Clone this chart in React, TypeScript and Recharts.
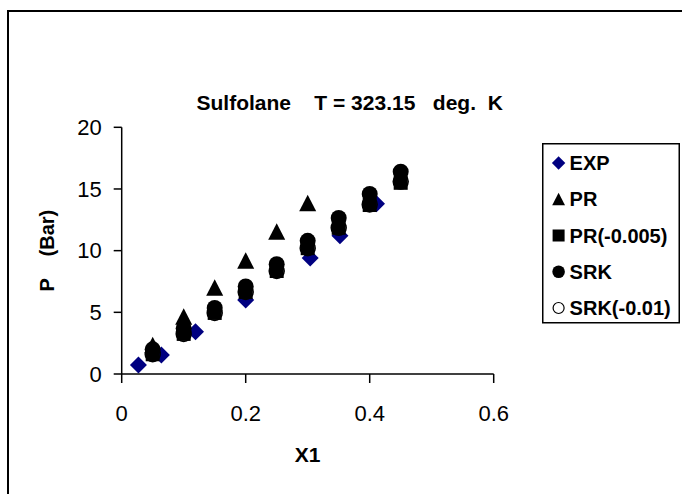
import React from 'react';
import { ScatterChart, Scatter, XAxis, YAxis, Legend, Label } from 'recharts';

const FONT = "'Liberation Sans', Arial, sans-serif";

// Experimental data
const expX = [0.027, 0.064, 0.119, 0.2, 0.304, 0.352, 0.411];
const expP = [0.73, 1.55, 3.43, 6.0, 9.4, 11.2, 13.8];
// PR model
const prX = [0.05, 0.1, 0.15, 0.2, 0.25, 0.3];
const prP = [2.3, 4.6, 6.95, 9.15, 11.5, 13.8];
// other models share the same compositions
const modelX = [0.05, 0.1, 0.15, 0.2, 0.25, 0.3, 0.35, 0.4, 0.45];
const pr005P = [1.6, 3.25, 4.95, 6.65, 8.35, 10.2, 11.85, 13.7, 15.5];
const srkP = [2.0, 3.7, 5.35, 7.1, 8.9, 10.8, 12.65, 14.6, 16.4];
const srk01P = [1.6, 3.25, 4.95, 6.65, 8.35, 10.2, 11.85, 13.75, 15.6];

const xTicks = [0, 0.2, 0.4, 0.6];
const yTicks = [0, 5, 10, 15, 20];
const seriesNames = ['EXP', 'PR', 'PR(-0.005)', 'SRK', 'SRK(-0.01)'];

const zip = (xs: number[], ys: number[]) => xs.map((x, i) => ({ x, y: ys[i] }));

const expData = zip(expX, expP);
const prData = zip(prX, prP);
const pr005Data = zip(modelX, pr005P);
const srkData = zip(modelX, srkP);
const srk01Data = zip(modelX, srk01P);

const NAVY = '#000080';

const DiamondShape = (p: any) => {
  const { cx, cy } = p;
  const r = 8.5;
  return <path d={`M${cx},${cy - r}L${cx + r},${cy}L${cx},${cy + r}L${cx - r},${cy}Z`} fill={NAVY} />;
};
const TriangleShape = (p: any) => {
  const { cx, cy } = p;
  return <path d={`M${cx},${cy - 9}L${cx + 8.5},${cy + 7.5}L${cx - 8.5},${cy + 7.5}Z`} fill="#000" />;
};
const SquareShape = (p: any) => {
  const { cx, cy } = p;
  return <rect x={cx - 7} y={cy - 7} width={14} height={14} fill="#000" />;
};
const CircleShape = (p: any) => {
  const { cx, cy } = p;
  return <circle cx={cx} cy={cy} r={8} fill="#000" />;
};
const OpenCircleShape = (p: any) => {
  const { cx, cy } = p;
  return <circle cx={cx} cy={cy} r={7.5} fill="none" stroke="#000" strokeWidth={1.5} />;
};

const legendIcon = (name: string, cx: number, cy: number) => {
  switch (name) {
    case 'EXP':
      return <path d={`M${cx},${cy - 6.7}L${cx + 6.7},${cy}L${cx},${cy + 6.7}L${cx - 6.7},${cy}Z`} fill={NAVY} />;
    case 'PR':
      return <path d={`M${cx},${cy - 6.5}L${cx + 6.4},${cy + 6}L${cx - 6.4},${cy + 6}Z`} fill="#000" />;
    case 'PR(-0.005)':
      return <rect x={cx - 6} y={cy - 6} width={12} height={12} fill="#000" />;
    case 'SRK':
      return <circle cx={cx} cy={cy} r={6.3} fill="#000" />;
    default:
      return <circle cx={cx} cy={cy} r={5.5} fill="#fff" stroke="#000" strokeWidth={1.2} />;
  }
};

const LegendContent = () => {
  const rowY = [20, 56.25, 92.5, 128.75, 165];
  return (
    <svg width={138} height={181} style={{ display: 'block' }}>
      <rect x={0.75} y={0.75} width={136.5} height={179} fill="#fff" stroke="#000" strokeWidth={1.5} />
      {seriesNames.map((n, i) => (
        <g key={n}>
          {legendIcon(n, 16.6, rowY[i])}
          <text x={27.6} y={rowY[i] + 7} fontFamily={FONT} fontWeight="bold" fontSize={20} fill="#000">
            {n}
          </text>
        </g>
      ))}
    </svg>
  );
};

export default function App() {
  return (
    <div style={{ position: 'fixed', left: 0, top: 0, width: 682, height: 494, overflow: 'hidden', background: '#fff', fontFamily: FONT }}>
      <div style={{ position: 'absolute', left: 7, top: 10, width: 800, height: 600, border: '2px solid #000' }} />
      <div
        style={{
          position: 'absolute',
          left: 0,
          width: 700,
          top: 110.7 - 18.5,
          whiteSpace: 'pre',
          fontWeight: 'bold',
          fontSize: 21,
          lineHeight: '21px',
        }}
      >
        <span style={{ position: 'absolute', left: 349.7, transform: 'translateX(-50%)' }}>
          {'Sulfolane    T = 323.15   deg.  K'}
        </span>
      </div>
      <div style={{ position: 'absolute', left: 0, top: 0 }}>
        <ScatterChart width={682} height={494} margin={{ top: 127.3, right: 188.3, bottom: 30, left: 41.7 }}>
          <XAxis
            type="number"
            dataKey="x"
            domain={[0, 0.6]}
            ticks={xTicks}
            height={90}
            tickSize={9}
            tickMargin={22}
            axisLine={{ stroke: '#000', strokeWidth: 1.5 }}
            tickLine={{ stroke: '#000', strokeWidth: 1.5 }}
            tick={{ fill: '#000', fontSize: 22, fontFamily: FONT }}
            tickFormatter={(v: number) => String(v)}
          >
            <Label
              content={(props: any) => {
                const vb = props.viewBox || {};
                return (
                  <text x={vb.x + vb.width / 2} y={vb.y + 87.7} textAnchor="middle" fontFamily={FONT} fontWeight="bold" fontSize={21} fill="#000">
                    X1
                  </text>
                );
              }}
            />
          </XAxis>
          <YAxis
            type="number"
            dataKey="y"
            domain={[0, 20]}
            ticks={yTicks}
            width={80}
            tickSize={8}
            tickMargin={12}
            axisLine={{ stroke: '#000', strokeWidth: 1.5 }}
            tickLine={{ stroke: '#000', strokeWidth: 1.5 }}
            tick={{ fill: '#000', fontSize: 22, fontFamily: FONT }}
          >
            <Label
              content={(props: any) => {
                const vb = props.viewBox || {};
                const lx = vb.x + 12;
                const ly = vb.y + vb.height / 2;
                return (
                  <text
                    x={lx}
                    y={ly}
                    transform={`rotate(-90, ${lx}, ${ly})`}
                    textAnchor="middle"
                    fontFamily={FONT}
                    fontWeight="bold"
                    fontSize={20}
                    fill="#000"
                    style={{ whiteSpace: 'pre' }}
                  >
                    {'P    (Bar)'}
                  </text>
                );
              }}
            />
          </YAxis>
          <Legend
            layout="horizontal"
            verticalAlign="middle"
            align="center"
            content={<LegendContent />}
            wrapperStyle={{ left: 541.7, top: 143.3, width: 138, height: 181 }}
          />
          <Scatter name="EXP" data={expData} shape={DiamondShape} isAnimationActive={false} />
          <Scatter name="PR" data={prData} shape={TriangleShape} isAnimationActive={false} />
          <Scatter name="PR(-0.005)" data={pr005Data} shape={SquareShape} isAnimationActive={false} />
          <Scatter name="SRK" data={srkData} shape={CircleShape} isAnimationActive={false} />
          <Scatter name="SRK(-0.01)" data={srk01Data} shape={OpenCircleShape} isAnimationActive={false} />
        </ScatterChart>
      </div>
    </div>
  );
}
